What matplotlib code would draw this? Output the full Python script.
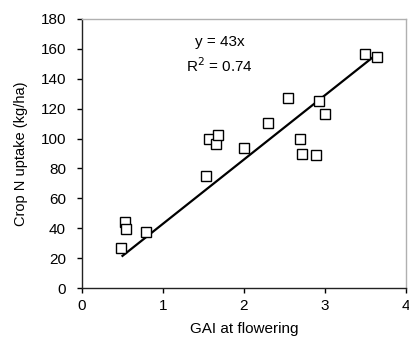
import matplotlib
matplotlib.use("Agg")
import matplotlib.pyplot as plt
import numpy as np

plt.rcParams['font.family'] = ['Liberation Sans', 'DejaVu Sans']

gai = [0.48, 0.535, 0.54, 0.79, 1.535, 1.57, 1.655, 1.68, 2.0, 2.3, 2.54,
       2.69, 2.72, 2.89, 2.92, 3.0, 3.49, 3.64]
n_uptake = [27, 44, 39.7, 37.7, 75, 99.7, 96.4, 102.6, 93.7, 110.7, 127.4,
            100, 89.7, 89, 125.4, 116.2, 156.4, 154.6]
slope = 43
fit_range = [0.5, 3.65]
xticks = [0, 1, 2, 3, 4]
yticks = [0, 20, 40, 60, 80, 100, 120, 140, 160, 180]

fig = plt.figure(figsize=(4.10, 3.47), dpi=100)
ax = fig.add_axes([82/410, 1 - 288/347, (406-82)/410, (288-19)/347])

ax.plot(gai, n_uptake, linestyle='none', marker='s', markersize=7.2,
        markerfacecolor='white', markeredgecolor='black', markeredgewidth=1.0,
        zorder=3)
fx = np.array(fit_range)
ax.plot(fx, slope * fx, color='black', linewidth=1.6, zorder=2)

ax.set_xlim(0, 4)
ax.set_ylim(0, 180)
ax.set_xticks(xticks)
ax.set_yticks(yticks)
ax.tick_params(direction='out', length=3.6, width=1, labelsize=11, colors='black')
ax.tick_params(axis='x', pad=4)
ax.tick_params(axis='y', pad=8)
for s in ['left', 'bottom']:
    ax.spines[s].set_color('#222222')
    ax.spines[s].set_linewidth(1)
for s in ['top', 'right']:
    ax.spines[s].set_color('#b0b0b0')
    ax.spines[s].set_linewidth(1)

ax.set_xlabel('GAI at flowering', fontsize=11, labelpad=7)
ax.set_ylabel('Crop N uptake (kg/ha)', fontsize=10.5)
ax.yaxis.set_label_coords(-0.167, 0.5)

ax.text(1.70, 164.6, 'y = 43x', ha='center', va='center', fontsize=11)
ax.text(1.70, 149, 'R$^2$ = 0.74', ha='center', va='center', fontsize=11)

fig.savefig('out.png', dpi=100)
